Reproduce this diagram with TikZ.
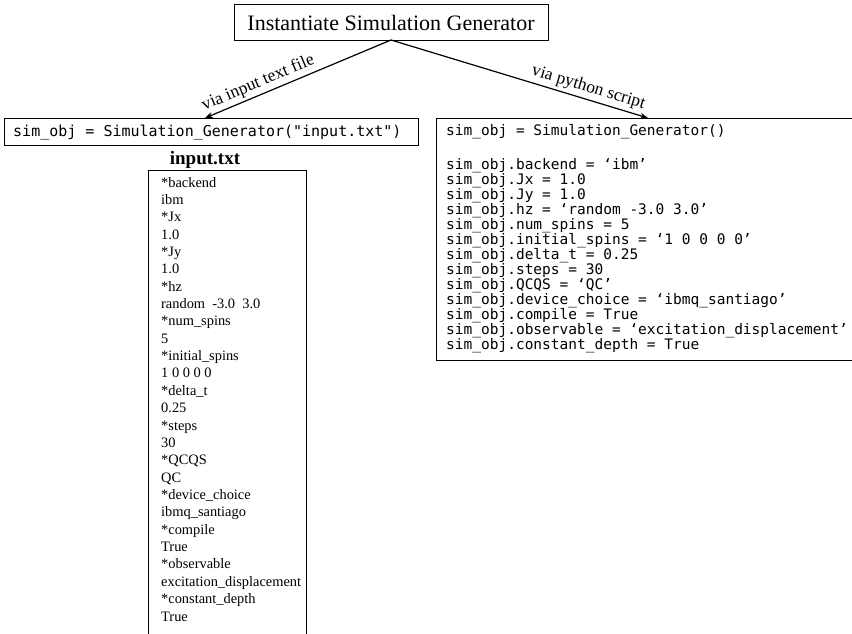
\documentclass[tikz,border=0pt]{standalone}
\usepackage{fontspec}
\setmainfont{Liberation Serif}
\setmonofont{DejaVu Sans Mono}
\usetikzlibrary{arrows.meta}
\begin{document}
\begin{tikzpicture}[x=1pt,y=-1pt,
  box/.style={draw, line width=0.8pt, inner sep=0pt},
  codeline/.style={anchor=base west, inner sep=0pt, font=\fontsize{14.5}{16}\ttfamily},
  txtline/.style={anchor=base west, inner sep=0pt, font=\fontsize{14.4}{17}\selectfont},
  link/.style={-{Stealth[length=8pt,width=6pt]}, line width=1.2pt},
  via/.style={font=\fontsize{17.5}{19}\selectfont, sloped, above, inner sep=3pt}]
\useasboundingbox (0,0) rectangle (852,633);

% title box
\node[box, minimum width=314pt, minimum height=36pt, anchor=north west] (top) at (234,4) {};
\node[anchor=base, inner sep=0pt, font=\fontsize{22}{24}\selectfont] (toptxt) at (391,30) {Instantiate Simulation Generator};

% constructor reading a text file
\node[box, minimum width=414pt, minimum height=27pt, anchor=north west] (fileobj) at (4,118) {};
\node[codeline, font=\fontsize{15}{16}\ttfamily] (filecode) at (13,136) {sim\_obj = Simulation\_Generator("input.txt")};
\coordinate (fileend) at (205,118);

% constructor set up in python
\node[box, minimum width=430pt, minimum height=242pt, anchor=north west] (pyobj) at (436,118) {};
\coordinate (pyend) at (648,118);

% connectors
\coordinate (split) at (391,40);
\draw[link] (split) -- node[via, pos=0.69] {via input text file} (fileend);
\draw[link] (split) -- node[via, pos=0.755] {via python script} (pyend);

% contents of input.txt
\node[anchor=base, inner sep=0pt, font=\fontsize{19}{21}\bfseries] (infile) at (205,164) {input.txt};
\node[box, minimum width=158pt, minimum height=480pt, anchor=north west] (inbox) at (148,170) {};
\foreach \t [count=\i from 0] in {{*backend},{ibm},{*Jx},{1.0},{*Jy},{1.0},{*hz},
  {random\ \ -3.0\ \ 3.0},{*num\_spins},{5},{*initial\_spins},{1 0 0 0 0},{*delta\_t},{0.25},
  {*steps},{30},{*QCQS},{QC},{*device\_choice},{ibmq\_santiago},{*compile},{True},
  {*observable},{excitation\_displacement},{*constant\_depth},{True}}
  \node[txtline] (in-\i) at (161,187+17.36*\i) {\t};

% python attribute assignments
\node[codeline] (py-0) at (446,135) {sim\_obj = Simulation\_Generator()};
\foreach \t [count=\i from 0] in {{sim\_obj.backend = ‘ibm’},{sim\_obj.Jx = 1.0},
  {sim\_obj.Jy = 1.0},{sim\_obj.hz = ‘random -3.0 3.0’},{sim\_obj.num\_spins = 5},
  {sim\_obj.initial\_spins = ‘1 0 0 0 0’},{sim\_obj.delta\_t = 0.25},{sim\_obj.steps = 30},
  {sim\_obj.QCQS = ‘QC’},{sim\_obj.device\_choice = ‘ibmq\_santiago’},
  {sim\_obj.compile = True},{sim\_obj.observable = ‘excitation\_displacement’},
  {sim\_obj.constant\_depth = True}}
  \node[codeline] (py-\i) at (446,169+15.08*\i) {\t};
\end{tikzpicture}
\end{document}
